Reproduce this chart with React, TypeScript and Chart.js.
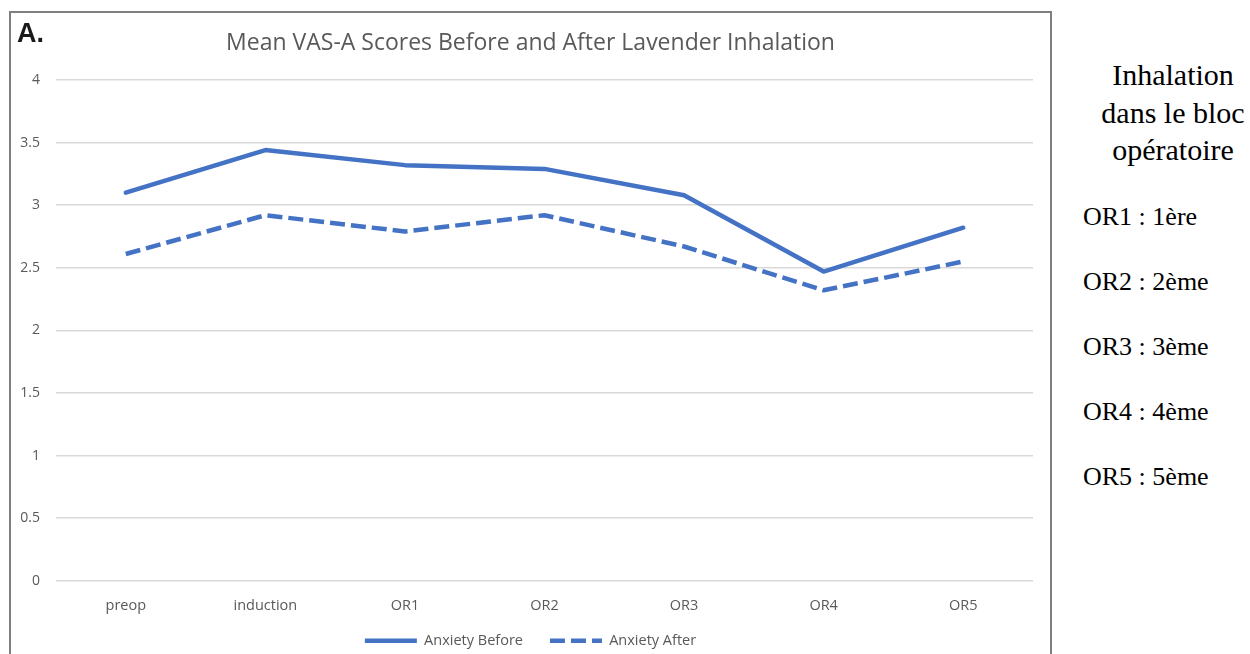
import React, { useEffect, useRef } from 'react';
import { Chart, registerables } from 'chart.js';

Chart.register(...registerables);

const categories = ['preop', 'induction', 'OR1', 'OR2', 'OR3', 'OR4', 'OR5'];
const anxietyBefore = [3.1, 3.44, 3.32, 3.29, 3.08, 2.47, 2.82];
const anxietyAfter = [2.61, 2.92, 2.79, 2.92, 2.67, 2.32, 2.55];
const yTickValues = [0, 0.5, 1, 1.5, 2, 2.5, 3, 3.5, 4];
const seriesLabels = ['Anxiety Before', 'Anxiety After'];
const chartTitle = 'Mean VAS-A Scores Before and After Lavender Inhalation';
const panelLabel = 'A.';
const sideHeading = ['Inhalation', 'dans le bloc', 'opératoire'];
const sideNotes = ['OR1 : 1ère', 'OR2 : 2ème', 'OR3 : 3ème', 'OR4 : 4ème', 'OR5 : 5ème'];

const BLUE = '#4472C4';
const GREY_TEXT = '#595959';
const FONT = '"Open Sans", Lato, sans-serif';
const DASH = [15, 6];

export default function App() {
  const canvasRef = useRef<HTMLCanvasElement | null>(null);

  useEffect(() => {
    if (!canvasRef.current) return;
    const chart = new Chart(canvasRef.current, {
      type: 'line',
      data: {
        labels: categories,
        datasets: [
          {
            label: seriesLabels[0],
            data: anxietyBefore,
            borderColor: BLUE,
            backgroundColor: BLUE,
            borderWidth: 4.5,
            pointRadius: 0,
            tension: 0,
            borderJoinStyle: 'round',
            borderCapStyle: 'round',
          },
          {
            label: seriesLabels[1],
            data: anxietyAfter,
            borderColor: BLUE,
            backgroundColor: BLUE,
            borderWidth: 4.5,
            borderDash: DASH,
            pointRadius: 0,
            tension: 0,
            borderJoinStyle: 'round',
          },
        ],
      },
      options: {
        animation: false,
        responsive: false,
        maintainAspectRatio: false,
        layout: { padding: { left: 17, right: 17, top: 0, bottom: 0 } },
        plugins: {
          title: {
            display: true,
            text: chartTitle,
            color: GREY_TEXT,
            font: { family: FONT, size: 23, weight: 'normal', lineHeight: 1.2 },
            padding: { top: 17, bottom: 22.4 },
          },
          legend: {
            position: 'bottom',
            labels: {
              usePointStyle: true,
              pointStyle: 'line',
              pointStyleWidth: 52,
              boxWidth: 52,
              boxHeight: 12,
              color: GREY_TEXT,
              font: { family: FONT, size: 14.5 },
              padding: 27,
              generateLabels: (c: any) =>
                c.data.datasets.map((ds: any, i: number) => ({
                  text: ds.label,
                  fillStyle: BLUE,
                  strokeStyle: BLUE,
                  fontColor: GREY_TEXT,
                  lineWidth: 4.5,
                  lineCap: 'butt',
                  lineDash: ds.borderDash || [],
                  pointStyle: 'line',
                  hidden: false,
                  datasetIndex: i,
                })),
            },
          },
          tooltip: { enabled: false },
        },
        scales: {
          x: {
            offset: true,
            afterFit: (scale: any) => {
              scale.height = 25.75;
              scale._computeLabelArea = () => undefined;
            },
            grid: { display: false, drawTicks: false },
            border: { display: false },
            ticks: {
              color: GREY_TEXT,
              font: { family: FONT, size: 14.5 },
              padding: 16,
            },
          },
          y: {
            min: 0,
            max: 4,
            afterFit: (scale: any) => {
              scale.width = 28;
              scale._computeLabelArea = () => undefined;
            },
            afterBuildTicks: (scale: any) => {
              scale.ticks = yTickValues.map((v) => ({ value: v }));
            },
            grid: { color: '#d9d9d9', lineWidth: 1.5, drawTicks: false },
            border: { display: false },
            ticks: {
              color: GREY_TEXT,
              font: { family: FONT, size: 14 },
              padding: 16,
              callback: (v: any) => String(v),
            },
          },
        },
      },
    });
    return () => chart.destroy();
  }, []);

  const serif = '"Liberation Serif", "Times New Roman", serif';

  return (
    <div style={{ position: 'absolute', left: 0, top: 0, width: 1250, height: 654, overflow: 'hidden', background: '#fff' }}>
      <div
        style={{
          position: 'absolute',
          left: 9,
          top: 11,
          width: 1039,
          height: 700,
          border: '2px solid #7f7f7f',
        }}
      >
        <canvas ref={canvasRef} width={1039} height={645} style={{ display: 'block', width: 1039, height: 645 }} />
        <div
          style={{
            position: 'absolute',
            left: 6,
            top: 7,
            fontFamily: '"Liberation Sans", Arial, sans-serif',
            fontWeight: 'bold',
            fontSize: 27,
            lineHeight: '27px',
            color: '#1a1a1a',
          }}
        >
          {panelLabel}
        </div>
      </div>
      <div
        style={{
          position: 'absolute',
          left: 1073,
          top: 56,
          width: 200,
          textAlign: 'center',
          fontFamily: serif,
          fontSize: 30,
          lineHeight: '37.5px',
          color: '#000',
          whiteSpace: 'nowrap',
        }}
      >
        {sideHeading.map((t) => (
          <div key={t}>{t}</div>
        ))}
      </div>
      {sideNotes.map((t, i) => (
        <div
          key={t}
          style={{
            position: 'absolute',
            left: 1083,
            top: 200 + i * 65,
            fontFamily: serif,
            fontSize: 26,
            lineHeight: '34px',
            color: '#000',
            whiteSpace: 'nowrap',
          }}
        >
          {t}
        </div>
      ))}
    </div>
  );
}
